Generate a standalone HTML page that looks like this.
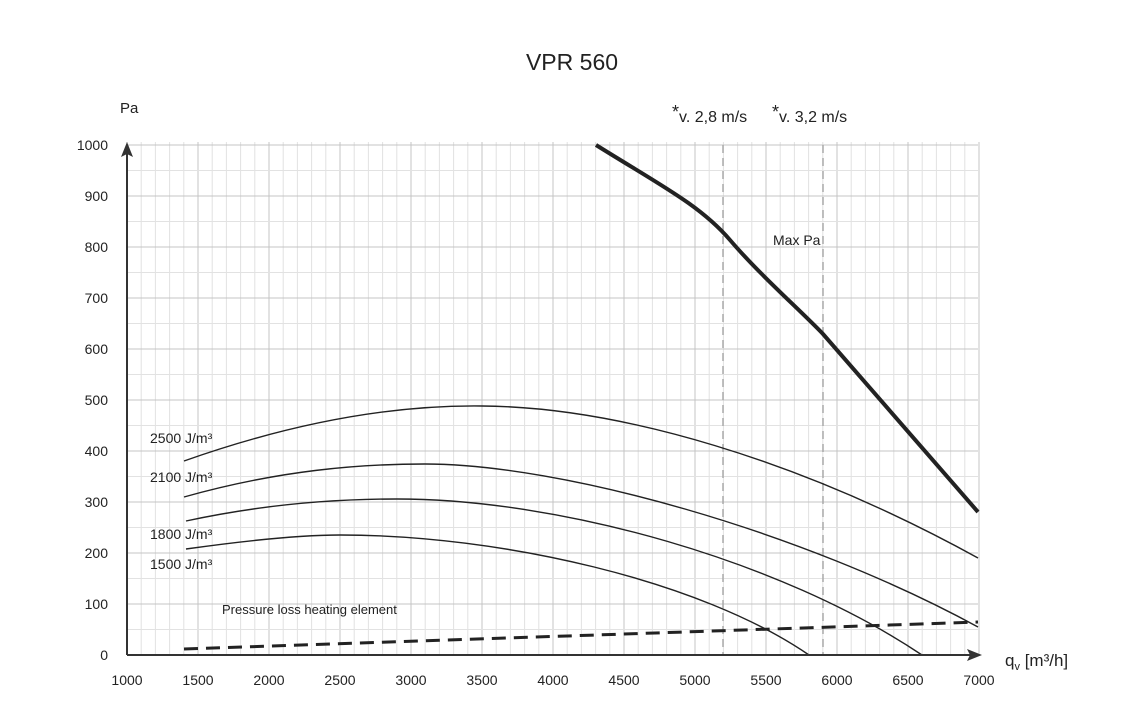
<!DOCTYPE html>
<html><head><style>body{margin:0;background:#fff}svg{display:block}text{font-family:"Liberation Sans",sans-serif;fill:#222}</style></head>
<body>
<svg width="1144" height="724" viewBox="0 0 1144 724">
<g id="grid"></g>
<text x="572" y="70" font-size="23" text-anchor="middle">VPR 560</text>
<text x="120" y="113" font-size="15">Pa</text>
<text x="672" y="122" font-size="16"><tspan font-size="18" dy="-4">*</tspan><tspan dy="4">v. 2,8 m/s</tspan></text>
<text x="772" y="122" font-size="16"><tspan font-size="18" dy="-4">*</tspan><tspan dy="4">v. 3,2 m/s</tspan></text>
<g stroke="#aaa" stroke-width="1.5" stroke-dasharray="8,5"><line x1="723" y1="145" x2="723" y2="655"/><line x1="823" y1="145" x2="823" y2="655"/></g>
<g fill="none" stroke="#222" stroke-width="1.4">
<path d="M184,461 C300,420 400,405 482,406 C620,407 800,460 978,558"/>
<path d="M184,497 C280,470 360,464 425,464 C560,464 800,530 978,627"/>
<path d="M186,521 C260,505 330,499 397,499 C560,499 780,560 922,655"/>
<path d="M186,549 C250,540 300,535 340,535 C500,535 700,580 809,655"/>
</g>
<path d="M596,145 C660,185 700,205 730,240 S800,310 823,334 L978,512" fill="none" stroke="#222" stroke-width="4"/>
<path d="M184,649 L978,622" fill="none" stroke="#222" stroke-width="3" stroke-dasharray="14,8"/>
<g stroke="#333" stroke-width="2"><line x1="127" y1="655" x2="972" y2="655"/><line x1="127" y1="655" x2="127" y2="152"/></g>
<polygon points="127,142 121,157 127,154 133,157" fill="#333"/>
<polygon points="982,655 967,649 970,655 967,661" fill="#333"/>
<g font-size="14">
<text x="150" y="443">2500 J/m³</text>
<text x="150" y="482">2100 J/m³</text>
<text x="150" y="539">1800 J/m³</text>
<text x="150" y="569">1500 J/m³</text>
<text x="773" y="245">Max Pa</text>
<text x="222" y="614" font-size="13">Pressure loss heating element</text>
</g>
<text x="1005" y="666" font-size="17">q<tspan font-size="11" dy="4">v</tspan><tspan dy="-4"> [m³/h]</tspan></text>
<g id="lbl" font-size="14"></g>
</svg>
<script>
var ns="http://www.w3.org/2000/svg",g=document.getElementById("grid"),l=document.getElementById("lbl");
function el(p,t,a){var e=document.createElementNS(ns,t);for(var k in a)e.setAttribute(k,a[k]);p.appendChild(e);return e;}
for(var i=0;i<=60;i++){var x=127+i*14.2;el(g,"line",{x1:x,x2:x,y1:142,y2:655,stroke:i%5==0?"#c4c4c4":"#e2e2e2","stroke-width":1});}
for(var j=0;j<=20;j++){var y=655-j*25.5;el(g,"line",{x1:127,x2:978,y1:y,y2:y,stroke:j%2==0?"#c4c4c4":"#e2e2e2","stroke-width":1});}
for(var k=0;k<=10;k++){var t=el(l,"text",{x:108,y:655-k*51+5,"text-anchor":"end"});t.textContent=k*100;}
for(var m=0;m<=12;m++){var t=el(l,"text",{x:127+m*71,y:685,"text-anchor":"middle"});t.textContent=1000+m*500;}
</script>
</body></html>
